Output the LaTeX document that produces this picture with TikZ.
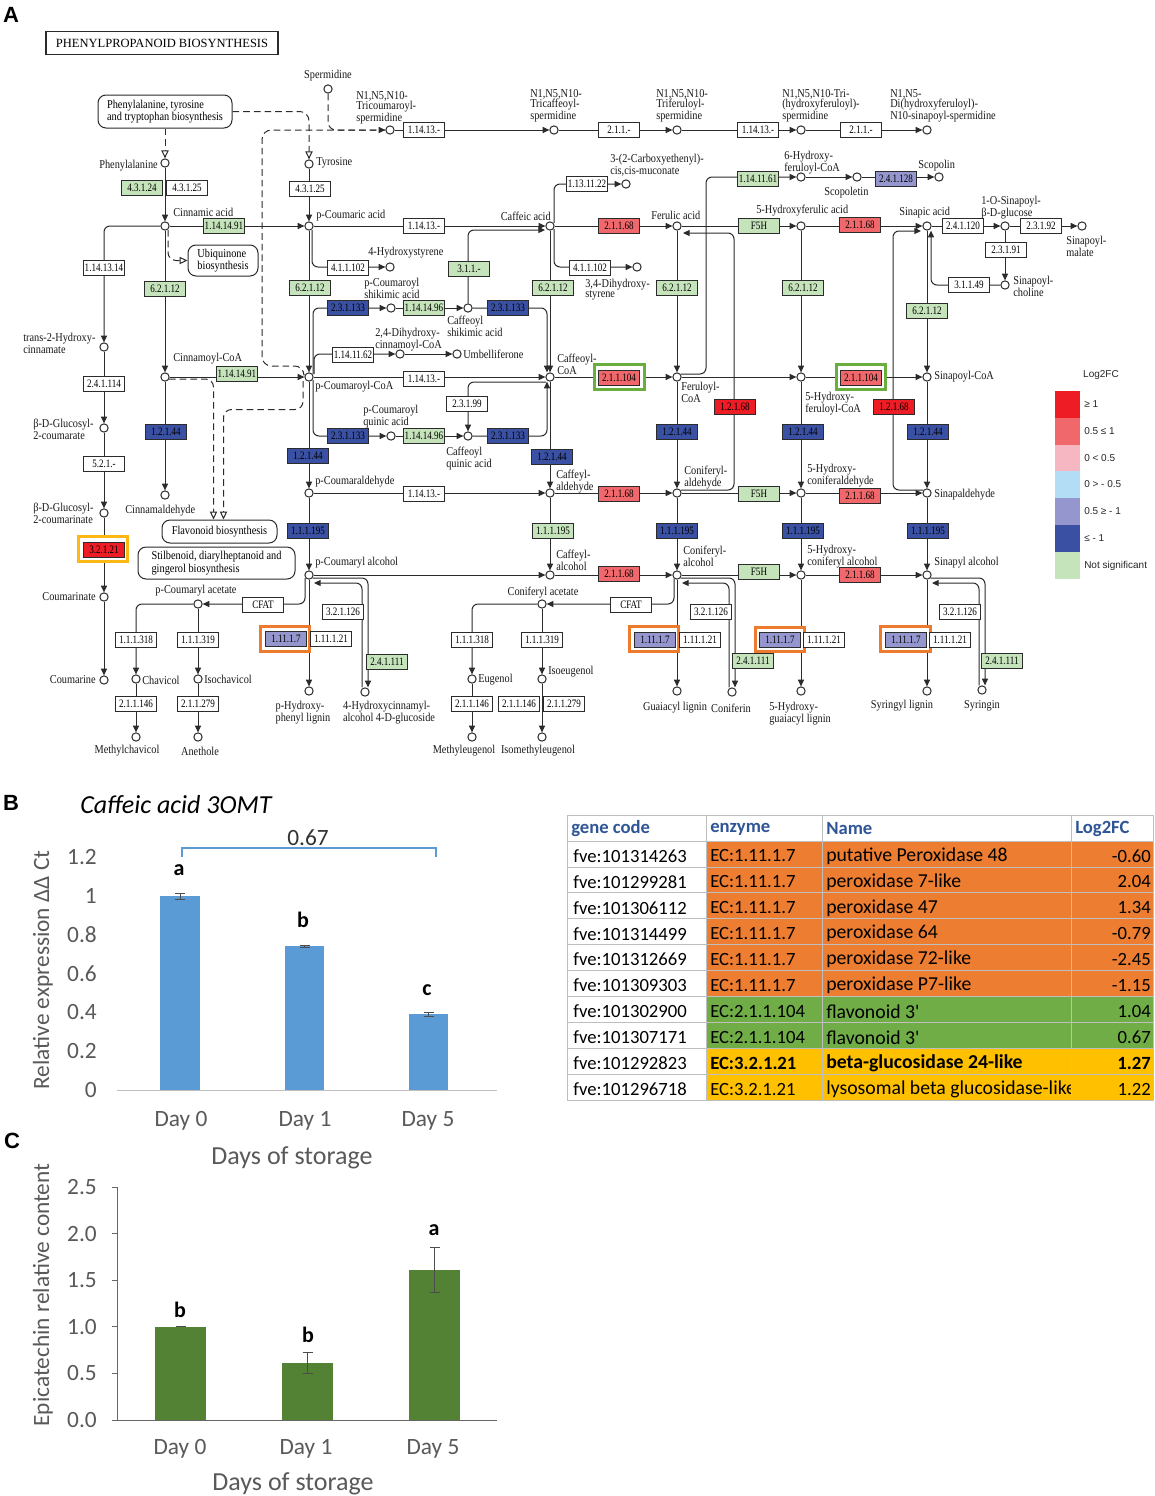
\documentclass[tikz,border=0pt]{standalone}
\usepackage{fontspec}
\setmainfont{Liberation Serif}
\newfontfamily\kserif{Liberation Serif}[FakeStretch=0.86]
\newfontfamily\kserifn{Liberation Serif}[FakeStretch=0.8]
\newfontfamily\calib{Carlito}
\newfontfamily\arialf{Liberation Sans}
\usetikzlibrary{arrows.meta,calc,backgrounds}
\definecolor{kline}{HTML}{2B2B2B}
\definecolor{kgreen}{HTML}{C6E4BC}
\definecolor{kred}{HTML}{EE1C25}
\definecolor{ksalmon}{HTML}{F0686B}
\definecolor{kpink}{HTML}{F6B7C3}
\definecolor{klblue}{HTML}{B3DDF5}
\definecolor{klav}{HTML}{9696CE}
\definecolor{kblue}{HTML}{3A50A2}
\definecolor{hlgreen}{HTML}{6AAE3E}
\definecolor{hlorange}{HTML}{EE7A2E}
\definecolor{hlyellow}{HTML}{FDB913}
\definecolor{barblue}{HTML}{5B9BD5}
\definecolor{bargreen}{HTML}{548235}
\definecolor{axgray}{HTML}{595959}
\definecolor{tblorange}{HTML}{ED7D31}
\definecolor{tblgreen}{HTML}{70AD47}
\definecolor{tblgold}{HTML}{FFC000}
\definecolor{tblhead}{HTML}{2F5597}
\definecolor{gridgray}{HTML}{BFBFBF}
\newcommand\klbl{\kserif\fontsize{9}{7.8}\selectfont}
\newcommand\kboxf{\kserifn\fontsize{8.5}{8.5}\selectfont}
\newcommand\cpdnode[3]{\node[cpd] (#1) at (#2,#3) {};}
\newcommand\ecnode[5]{\node[#2] (#1) at (#3,#4) {#5};}
\newcommand\hlnode[4]{\node[hlbox, draw=#2] (#1) at (#3,#4) {};}
\newcommand\trow[7]{%
 \fill[fill=#6] (706,{841+#1*25.9}) rectangle (1154,{841+(#1+1)*25.9});
 \node[tcell,anchor=west] (tg#1) at (573,{856+#1*25.9}) {#2};
 \node[tcell,anchor=west] (te#1) at (710,{856+#1*25.9}) {#7#3};
 \begin{scope}\clip (822,{841+#1*25.9}) rectangle (1071,{841+(#1+1)*25.9});
 \node[tcell,anchor=west,font=\calib\fontsize{14.8}{16}\selectfont] (tn#1) at (826,{856+#1*25.9}) {#7#4};\end{scope}
 \node[tcell,anchor=east] (tv#1) at (1151,{856+#1*25.9}) {#7#5};
}
\begin{document}
\begin{tikzpicture}[x=0.75pt,y=-0.75pt,
 cpd/.style={circle, draw=kline, line width=0.75pt, fill=white, minimum size=6.2pt, inner sep=0pt},
 ecbox/.style={draw=kline, line width=0.7pt, minimum width=30.5pt, minimum height=11pt, inner sep=0pt, font=\kboxf, text=black},
 ecw/.style={ecbox, fill=white},
 ecg/.style={ecbox, fill=kgreen},
 ecr/.style={ecbox, fill=kred},
 ecs/.style={ecbox, fill=ksalmon},
 ecl/.style={ecbox, fill=klav},
 ecb/.style={ecbox, fill=kblue},
 hlbox/.style={line width=2.4pt, fill=white, minimum width=37pt, minimum height=18.5pt, inner sep=0pt},
 lbl/.style={font=\klbl, inner sep=0pt, align=left, text=black!90},
 mapbox/.style={draw=kline, line width=0.75pt, rounded corners=6pt, fill=white, font=\klbl, align=left, inner sep=0pt},
 conn/.style={draw=kline, line width=0.75pt},
 arr/.style={conn, -{Triangle[length=5pt,width=4.5pt]}},
 dsh/.style={conn, dash pattern=on 5pt off 3pt},
 darr/.style={dsh, -{Triangle[length=5pt,width=4.5pt]}},
 oarr/.style={dsh, -{Triangle[open,length=6pt,width=5.5pt,fill=white]}},
 rc/.style={rounded corners=4.5pt},
 sw/.style={minimum width=18.75pt, minimum height=20.25pt, inner sep=0pt},
 leg/.style={font=\arialf\fontsize{7.5}{9}\selectfont, anchor=west, inner sep=0pt, text=black!85},
 ticklbl/.style={font=\calib\fontsize{17.5}{20}\selectfont, text=axgray, inner sep=0pt},
 axtitle/.style={font=\calib\fontsize{19.5}{22}\selectfont, text=axgray, inner sep=0pt},
 sig/.style={font=\calib\bfseries\fontsize{16.5}{18}\selectfont, inner sep=0pt},
 errb/.style={draw=black!70, line width=0.75pt},
 tcell/.style={font=\calib\fontsize{14}{16}\selectfont, inner sep=0pt},
 thead/.style={font=\calib\bfseries\fontsize{14}{16}\selectfont, inner sep=0pt, text=tblhead, anchor=west},
 panel/.style={font=\arialf\bfseries\fontsize{16.5}{18}\selectfont, inner sep=0pt}
]
\useasboundingbox (0,0) rectangle (1154,1496);

% ================= PANEL A =================
\node[panel] (pA) at (11,15) {A};
\node[draw=kline, line width=0.9pt, minimum width=174pt, minimum height=17pt, inner sep=0pt, font=\fontsize{9.4}{10}\selectfont] (title) at (162,43) {PHENYLPROPANOID BIOSYNTHESIS};

% map boxes
\node[mapbox, minimum width=100.5pt, minimum height=24.75pt] (ppt) at (165,111.5) {Phenylalanine, tyrosine\\and tryptophan biosynthesis};
\node[mapbox, minimum width=52.5pt, minimum height=23.25pt] (ubq) at (223,260.5) {Ubiquinone\\biosynthesis};
\node[mapbox, minimum width=86.25pt, minimum height=17.25pt] (flav) at (219.5,531.5) {Flavonoid biosynthesis};
\node[mapbox, minimum width=117.75pt, minimum height=24pt] (stil) at (216.5,563) {Stilbenoid, diarylheptanoid and\\gingerol biosynthesis};

% compounds
\cpdnode{phe}{165}{163}
\cpdnode{tyr}{309}{164}
\cpdnode{cin}{165}{226}
\cpdnode{pcou}{309}{226}
\cpdnode{caf}{550}{226}
\cpdnode{fer}{677}{226}
\cpdnode{ohfer}{801}{226}
\cpdnode{sin}{927}{226}
\cpdnode{sglc}{1005}{226}
\cpdnode{smal}{1082}{226}
\cpdnode{schol}{1005}{285}
\cpdnode{carb}{626}{184}
\cpdnode{hfsix}{801}{177}
\cpdnode{scpt}{857}{177}
\cpdnode{scpn}{939}{177}
\cpdnode{spd}{328}{89}
\cpdnode{sa}{390}{130}
\cpdnode{sb}{554}{130}
\cpdnode{sc}{677}{130}
\cpdnode{sd}{801}{130}
\cpdnode{se}{927}{130}
\cpdnode{hsty}{390}{267}
\cpdnode{dhsty}{637}{267}
\cpdnode{thc}{104}{347}
\cpdnode{gca}{104}{428}
\cpdnode{gcn}{104}{513}
\cpdnode{cmn}{104}{597}
\cpdnode{cme}{104}{680}
\cpdnode{cinCoA}{165}{377}
\cpdnode{pcouCoA}{309}{377}
\cpdnode{cafCoA}{550}{377}
\cpdnode{ferCoA}{677}{377}
\cpdnode{hffive}{801}{377}
\cpdnode{sinCoA}{927}{377}
\cpdnode{pcsh}{391}{308}
\cpdnode{cfsh}{468}{308}
\cpdnode{pcqu}{391}{436}
\cpdnode{cfqu}{468}{436}
\cpdnode{dhc}{400}{354}
\cpdnode{umb}{457}{354}
\cpdnode{cinald}{165}{495}
\cpdnode{pcald}{309}{493}
\cpdnode{cafald}{550}{493}
\cpdnode{conald}{677}{493}
\cpdnode{ohconald}{801}{493}
\cpdnode{sinald}{927}{493}
\cpdnode{pcalc}{309}{575}
\cpdnode{cafalc}{550}{575}
\cpdnode{conalc}{677}{575}
\cpdnode{ohconalc}{801}{575}
\cpdnode{sinalc}{927}{575}
\cpdnode{pcac}{198}{604}
\cpdnode{chav}{136}{679}
\cpdnode{ichav}{198}{679}
\cpdnode{mchav}{136}{737}
\cpdnode{aneth}{198}{737}
\cpdnode{conac}{542}{604}
\cpdnode{eug}{472}{679}
\cpdnode{ieug}{542}{679}
\cpdnode{meug}{472}{737}
\cpdnode{imeug}{542}{737}
\cpdnode{phl}{309}{691}
\cpdnode{hcg}{365}{692}
\cpdnode{gl}{677}{691}
\cpdnode{cnf}{732}{692}
\cpdnode{ogl}{801}{691}
\cpdnode{syl}{927}{691}
\cpdnode{syr}{982}{690}

% highlights
\hlnode{hA}{hlyellow}{103}{549}
\hlnode{hB}{hlgreen}{619.5}{377}
\hlnode{hC}{hlgreen}{861}{377}
\hlnode{hD}{hlorange}{285}{639}
\hlnode{hE}{hlorange}{654}{639}
\hlnode{hF}{hlorange}{780}{639.5}
\hlnode{hG}{hlorange}{905.5}{639}

% enzyme boxes
\ecnode{e1}{ecg}{142}{188}{4.3.1.24}
\ecnode{e2}{ecw}{187}{188}{4.3.1.25}
\ecnode{e3}{ecw}{310}{189}{4.3.1.25}
\ecnode{e4}{ecg}{224}{226}{1.14.14.91}
\ecnode{e5}{ecw}{104}{268}{1.14.13.14}
\ecnode{e6}{ecw}{104}{384}{2.4.1.114}
\ecnode{e7}{ecw}{104}{464}{5.2.1.-}
\ecnode{e8}{ecr}{104}{550}{3.2.1.21}
\ecnode{e9}{ecg}{165}{289}{6.2.1.12}
\ecnode{e10}{ecg}{237}{374}{1.14.14.91}
\ecnode{e11}{ecb}{166}{432}{1.2.1.44}
\ecnode{e12}{ecg}{310}{288}{6.2.1.12}
\ecnode{e13}{ecw}{348}{268}{4.1.1.102}
\ecnode{e14}{ecw}{424}{226}{1.14.13.-}
\ecnode{e15}{ecb}{308}{456}{1.2.1.44}
\ecnode{e16}{ecb}{308}{531}{1.1.1.195}
\ecnode{e17}{ecw}{424}{494}{1.14.13.-}
\ecnode{e18}{ecl}{286}{639}{1.11.1.7}
\ecnode{e19}{ecw}{331}{639}{1.11.1.21}
\ecnode{e20}{ecw}{263}{605}{CFAT}
\ecnode{e21}{ecw}{343}{612}{3.2.1.126}
\ecnode{e22}{ecg}{387}{662}{2.4.1.111}
\ecnode{e23}{ecw}{136}{640}{1.1.1.318}
\ecnode{e24}{ecw}{198}{640}{1.1.1.319}
\ecnode{e25}{ecw}{136}{704}{2.1.1.146}
\ecnode{e26}{ecw}{198}{704}{2.1.1.279}
\ecnode{e27}{ecw}{424}{130}{1.14.13.-}
\ecnode{e28}{ecw}{619}{130}{2.1.1.-}
\ecnode{e29}{ecw}{758}{130}{1.14.13.-}
\ecnode{e30}{ecw}{861}{130}{2.1.1.-}
\ecnode{e31}{ecb}{348}{308}{2.3.1.133}
\ecnode{e32}{ecg}{424}{308}{1.14.14.96}
\ecnode{e33}{ecb}{508}{308}{2.3.1.133}
\ecnode{e34}{ecg}{469}{269}{3.1.1.-}
\ecnode{e35}{ecw}{353}{355}{1.14.11.62}
\ecnode{e36}{ecw}{424}{379}{1.14.13.-}
\ecnode{e37}{ecb}{348}{436}{2.3.1.133}
\ecnode{e38}{ecg}{424}{436}{1.14.14.96}
\ecnode{e39}{ecb}{508}{436}{2.3.1.133}
\ecnode{e40}{ecw}{467}{404}{2.3.1.99}
\ecnode{e41}{ecw}{587}{184}{1.13.11.22}
\ecnode{e42}{ecw}{590}{268}{4.1.1.102}
\ecnode{e43}{ecg}{553}{288}{6.2.1.12}
\ecnode{e44}{ecb}{552}{457}{1.2.1.44}
\ecnode{e45}{ecg}{553}{531}{1.1.1.195}
\ecnode{e46}{ecs}{619}{226}{2.1.1.68}
\ecnode{e47}{ecs}{619}{378}{2.1.1.104}
\ecnode{e48}{ecs}{619}{494}{2.1.1.68}
\ecnode{e49}{ecs}{619}{574}{2.1.1.68}
\ecnode{e50}{ecg}{677}{288}{6.2.1.12}
\ecnode{e51}{ecb}{677}{432}{1.2.1.44}
\ecnode{e52}{ecb}{677}{531}{1.1.1.195}
\ecnode{e53}{ecr}{735}{407}{1.2.1.68}
\ecnode{e54}{ecl}{655}{640}{1.11.1.7}
\ecnode{e55}{ecw}{700}{640}{1.11.1.21}
\ecnode{e56}{ecw}{631}{605}{CFAT}
\ecnode{e57}{ecw}{711}{612}{3.2.1.126}
\ecnode{e58}{ecg}{753}{661}{2.4.1.111}
\ecnode{e59}{ecw}{472}{640}{1.1.1.318}
\ecnode{e60}{ecw}{542}{640}{1.1.1.319}
\ecnode{e61}{ecw}{472}{704}{2.1.1.146}
\ecnode{e62}{ecw}{519}{704}{2.1.1.146}
\ecnode{e63}{ecw}{564}{704}{2.1.1.279}
\ecnode{e64}{ecg}{758}{179}{1.14.11.61}
\ecnode{e65}{ecl}{896}{179}{2.4.1.128}
\ecnode{e66}{ecg}{759}{226}{F5H}
\ecnode{e67}{ecg}{759}{494}{F5H}
\ecnode{e68}{ecg}{759}{572}{F5H}
\ecnode{e69}{ecg}{803}{288}{6.2.1.12}
\ecnode{e70}{ecb}{803}{432}{1.2.1.44}
\ecnode{e71}{ecb}{803}{531}{1.1.1.195}
\ecnode{e72}{ecl}{780}{640}{1.11.1.7}
\ecnode{e73}{ecw}{824}{640}{1.11.1.21}
\ecnode{e74}{ecs}{860}{225}{2.1.1.68}
\ecnode{e75}{ecs}{861}{378}{2.1.1.104}
\ecnode{e76}{ecs}{860}{496}{2.1.1.68}
\ecnode{e77}{ecs}{860}{575}{2.1.1.68}
\ecnode{e78}{ecg}{927}{311}{6.2.1.12}
\ecnode{e79}{ecb}{928}{432}{1.2.1.44}
\ecnode{e80}{ecb}{928}{531}{1.1.1.195}
\ecnode{e81}{ecr}{894}{407}{1.2.1.68}
\ecnode{e82}{ecl}{906}{640}{1.11.1.7}
\ecnode{e83}{ecw}{950}{640}{1.11.1.21}
\ecnode{e84}{ecw}{960}{612}{3.2.1.126}
\ecnode{e85}{ecg}{1002}{661}{2.4.1.111}
\ecnode{e86}{ecw}{963}{226}{2.4.1.120}
\ecnode{e87}{ecw}{1041}{226}{2.3.1.92}
\ecnode{e88}{ecw}{1006}{250}{2.3.1.91}
\ecnode{e89}{ecw}{969}{285}{3.1.1.49}

% compound labels
\node[lbl, anchor=south] (Lspd) at (328,81) {Spermidine};
\node[lbl, anchor=north west] (Lsa) at (356,91) {N1,N5,N10-\\Tricoumaroyl-\\spermidine};
\node[lbl, anchor=north west] (Lsb) at (530,89) {N1,N5,N10-\\Tricaffeoyl-\\spermidine};
\node[lbl, anchor=north west] (Lsc) at (656,89) {N1,N5,N10-\\Triferuloyl-\\spermidine};
\node[lbl, anchor=north west] (Lsd) at (782,89) {N1,N5,N10-Tri-\\(hydroxyferuloyl)-\\spermidine};
\node[lbl, anchor=north west] (Lse) at (890,89) {N1,N5-\\Di(hydroxyferuloyl)-\\N10-sinapoyl-spermidine};
\node[lbl, anchor=east] (Lphe) at (158,166) {Phenylalanine};
\node[lbl, anchor=west] (Ltyr) at (316,163) {Tyrosine};
\node[lbl, anchor=west] (Lcin) at (173,212) {Cinnamic acid};
\node[lbl, anchor=west] (Lpcou) at (316,216) {p-Coumaric acid};
\node[lbl, anchor=east] (Lcaf) at (551,216) {Caffeic acid};
\node[lbl, anchor=west] (Lfer) at (651,215) {Ferulic acid};
\node[lbl, anchor=west] (Lohfer) at (756,211) {5-Hydroxyferulic acid};
\node[lbl, anchor=west] (Lsin) at (899,213) {Sinapic acid};
\node[lbl, anchor=north west] (Lsglc) at (981,196) {1-O-Sinapoyl-\\β-D-glucose};
\node[lbl, anchor=north west] (Lsmal) at (1066,236) {Sinapoyl-\\malate};
\node[lbl, anchor=north west] (Lschol) at (1013,276) {Sinapoyl-\\choline};
\node[lbl, anchor=north west] (Lcarb) at (610,154) {3-(2-Carboxyethenyl)-\\cis,cis-muconate};
\node[lbl, anchor=north west] (Lhfsix) at (784,151) {6-Hydroxy-\\feruloyl-CoA};
\node[lbl, anchor=west] (Lscpt) at (824,193) {Scopoletin};
\node[lbl, anchor=west] (Lscpn) at (918,166) {Scopolin};
\node[lbl, anchor=west] (Lhsty) at (368,253) {4-Hydroxystyrene};
\node[lbl, anchor=north west] (Ldhsty) at (585,279) {3,4-Dihydroxy-\\styrene};
\node[lbl, anchor=north west] (Lthc) at (23,333) {trans-2-Hydroxy-\\cinnamate};
\node[lbl, anchor=north west] (Lgca) at (33,419) {β-D-Glucosyl-\\2-coumarate};
\node[lbl, anchor=north west] (Lgcn) at (33,503) {β-D-Glucosyl-\\2-coumarinate};
\node[lbl, anchor=east] (Lcmn) at (96,597) {Coumarinate};
\node[lbl, anchor=east] (Lcme) at (96,680) {Coumarine};
\node[lbl, anchor=west] (LcinCoA) at (173,359) {Cinnamoyl-CoA};
\node[lbl, anchor=west] (LpcouCoA) at (315,387) {p-Coumaroyl-CoA};
\node[lbl, anchor=north west] (LcafCoA) at (557,354) {Caffeoyl-\\CoA};
\node[lbl, anchor=north west] (LferCoA) at (681,382) {Feruloyl-\\CoA};
\node[lbl, anchor=north west] (Lhffive) at (805,392) {5-Hydroxy-\\feruloyl-CoA};
\node[lbl, anchor=west] (LsinCoA) at (934,377) {Sinapoyl-CoA};
\node[lbl, anchor=north west] (Lpcsh) at (364,278) {p-Coumaroyl\\shikimic acid};
\node[lbl, anchor=north west] (Lcfsh) at (447,316) {Caffeoyl\\shikimic acid};
\node[lbl, anchor=north west] (Ldhc) at (375,328) {2,4-Dihydroxy-\\cinnamoyl-CoA};
\node[lbl, anchor=west] (Lumb) at (463,354) {Umbelliferone};
\node[lbl, anchor=north west] (Lpcqu) at (363,405) {p-Coumaroyl\\quinic acid};
\node[lbl, anchor=north west] (Lcfqu) at (446,447) {Caffeoyl\\quinic acid};
\node[lbl, anchor=west] (Lcinald) at (125,511) {Cinnamaldehyde};
\node[lbl, anchor=west] (Lpcald) at (315,482) {p-Coumaraldehyde};
\node[lbl, anchor=north west] (Lcafald) at (556,470) {Caffeyl-\\aldehyde};
\node[lbl, anchor=north west] (Lconald) at (684,466) {Coniferyl-\\aldehyde};
\node[lbl, anchor=north west] (Lohconald) at (807,464) {5-Hydroxy-\\coniferaldehyde};
\node[lbl, anchor=west] (Lsinald) at (934,495) {Sinapaldehyde};
\node[lbl, anchor=west] (Lpcalc) at (315,563) {p-Coumaryl alcohol};
\node[lbl, anchor=north west] (Lcafalc) at (556,550) {Caffeyl-\\alcohol};
\node[lbl, anchor=north west] (Lconalc) at (683,546) {Coniferyl-\\alcohol};
\node[lbl, anchor=north west] (Lohconalc) at (807,545) {5-Hydroxy-\\coniferyl alcohol};
\node[lbl, anchor=west] (Lsinalc) at (934,563) {Sinapyl alcohol};
\node[lbl] (Lpcac) at (196,591) {p-Coumaryl acetate};
\node[lbl] (Lconac) at (543,593) {Coniferyl acetate};
\node[lbl, anchor=west] (Lchav) at (142,680) {Chavicol};
\node[lbl, anchor=west] (Lichav) at (204,679) {Isochavicol};
\node[lbl, anchor=west] (Leug) at (478,680) {Eugenol};
\node[lbl, anchor=west] (Lieug) at (548,672) {Isoeugenol};
\node[lbl] (Lmchav) at (127,751) {Methylchavicol};
\node[lbl] (Laneth) at (200,751) {Anethole};
\node[lbl] (Lmeug) at (464,751) {Methyleugenol};
\node[lbl] (Limeug) at (538,751) {Isomethyleugenol};
\node[lbl, anchor=north] (Lphl) at (303,701) {p-Hydroxy-\\phenyl lignin};
\node[lbl, anchor=north] (Lhcg) at (389,701) {4-Hydroxycinnamyl-\\alcohol 4-D-glucoside};
\node[lbl] (Lgl) at (675,708) {Guaiacyl lignin};
\node[lbl] (Lcnf) at (731,708) {Coniferin};
\node[lbl, anchor=north west] (Logl) at (769,702) {5-Hydroxy-\\guaiacyl lignin};
\node[lbl] (Lsyl) at (902,706) {Syringyl lignin};
\node[lbl] (Lsyr) at (982,706) {Syringin};

% legend
\node[leg, anchor=center] (lgT) at (1101,375) {Log2FC};
\node[sw, fill=kred] (sw1) at (1067.5,404.5) {};
\node[sw, fill=ksalmon] (sw2) at (1067.5,431.5) {};
\node[sw, fill=kpink] (sw3) at (1067.5,458) {};
\node[sw, fill=klblue] (sw4) at (1067.5,484.5) {};
\node[sw, fill=klav] (sw5) at (1067.5,511.5) {};
\node[sw, fill=kblue] (sw6) at (1067.5,538.5) {};
\node[sw, fill=kgreen] (sw7) at (1067.5,565.5) {};
\node[leg] (lg1) at (1084,404.5) {≥ 1};
\node[leg] (lg2) at (1084,431.5) {0.5 ≤ 1};
\node[leg] (lg3) at (1084,458) {0 < 0.5};
\node[leg] (lg4) at (1084,484.5) {0 > - 0.5};
\node[leg] (lg5) at (1084,511.5) {0.5 ≥ - 1};
\node[leg] (lg6) at (1084,538.5) {≤ - 1};
\node[leg] (lg7) at (1084,565.5) {Not significant};

% connectors (background)
\begin{scope}[on background layer]
\fill[white] (0,0) rectangle (1154,1496);
% dashed
\draw[oarr] (ppt.south) -- (phe);
\draw[oarr, rounded corners=7pt] (ppt.east) -| (tyr);
\draw[dsh, rounded corners=6pt] (spd) |- (sa);
\draw[darr, rounded corners=7pt] ($(pcouCoA)+(-5,-3)$) |- (262,366) |- (sa);
\draw[oarr, rounded corners=6pt] ($(cin)+(3,4)$) |- (ubq.west);
\draw[oarr, rounded corners=6pt] ($(cinCoA)+(4,2)$) -| ($(flav.north)+(-6,0)$);
\draw[oarr, rounded corners=6pt] ($(pcouCoA)+(-6,4)$) |- ($(flav.north)+(4,-110)$) -- ($(flav.north)+(4,0)$);
% columns 1-2
\draw[arr] (phe) -- (cin);
\draw[arr] (tyr) -- (pcou);
\draw[arr] (cin) -- (pcou);
\draw[arr, rc] (cin) -| (thc);
\draw[arr] (thc) -- (gca);
\draw[arr] (gca) -- (gcn);
\draw[arr] (gcn) -- (cmn);
\draw[arr] (cmn) -- (cme);
\draw[arr] (cin) -- (cinCoA);
\draw[arr] (cinCoA) -- (cinald);
\draw[arr] (cinCoA) -- (pcouCoA);
% column 3
\draw[arr] (pcou) -- (pcouCoA);
\draw[arr, rc] ($(pcou)+(3,4)$) |- (hsty);
\draw[arr] (pcou) -- (caf);
\draw[arr] (pcouCoA) -- (pcald);
\draw[arr] (pcald) -- (pcalc);
\draw[arr] (pcald) -- (cafald);
\draw[arr] (pcalc) -- (cafalc);
\draw[arr, rc] ($(pcalc)+(3.5,3)$) -| ($(hcg.north)+(3,0)$);
\draw[arr, rc] ($(hcg.north)+(-3,0)$) |- ($(pcalc)+(5,8)$);
\draw[arr] (pcalc) -- (phl);
\draw[arr, rc] ($(pcalc)+(-4,3)$) |- (pcac);
\draw[arr, rc] (pcac) -| (chav);
\draw[arr] (pcac) -- (ichav);
\draw[arr] (chav) -- (mchav);
\draw[arr] (ichav) -- (aneth);
% spermidine row
\draw[arr] (sa) -- (sb);
\draw[arr] (sb) -- (sc);
\draw[arr] (sc) -- (sd);
\draw[arr] (sd) -- (se);
% shikimate / quinate
\draw[arr, rc] ($(pcouCoA)+(4,-3)$) |- (pcsh);
\draw[arr] (pcsh) -- (cfsh);
\draw[arr, rc] (cfsh) -| ($(cafCoA.north)+(-3,0)$);
\draw[arr, rc] (cfsh) |- ($(caf)+(-5,4)$);
\draw[arr, rc] ($(pcouCoA)+(5,-3)$) |- (dhc);
\draw[arr] (dhc) -- (umb);
\draw[arr] (pcouCoA) -- (cafCoA);
\draw[arr, rc] ($(pcouCoA)+(4,3)$) |- (pcqu);
\draw[arr] (pcqu) -- (cfqu);
\draw[arr, rc] (cfqu) -| ($(cafCoA.south)+(-3,0)$);
\draw[arr, rc] ($(cafCoA)+(-4,5)$) -| (cfqu);
% caffeic column
\draw[arr] (caf) -- (cafCoA);
\draw[arr, rc] ($(caf)+(4,-3)$) |- (carb);
\draw[arr, rc] ($(caf)+(4,3)$) |- (dhsty);
\draw[arr] (caf) -- (fer);
\draw[arr] (cafCoA) -- (cafald);
\draw[arr] (cafCoA) -- (ferCoA);
\draw[arr] (cafald) -- (cafalc);
\draw[arr] (cafald) -- (conald);
\draw[arr] (cafalc) -- (conalc);
% ferulic column
\draw[arr] (fer) -- (ferCoA);
\draw[arr] (fer) -- (ohfer);
\draw[arr, rc] ($(ferCoA)+(4,-3)$) -| ($(hfsix)+(-95,0)$) -- (hfsix);
\draw[arr] (hfsix) -- (scpt);
\draw[arr] (scpt) -- (scpn);
\draw[arr] (ferCoA) -- (conald);
\draw[arr] (ferCoA) -- (hffive);
\draw[arr, rc] ($(conald)+(4,-3)$) -| ($(fer)+(57,7)$) -- ($(fer)+(6,7)$);
\draw[arr] (conald) -- (conalc);
\draw[arr] (conald) -- (ohconald);
\draw[arr] (conalc) -- (ohconalc);
\draw[arr] (conalc) -- (gl);
\draw[arr, rc] ($(conalc)+(-3,3.5)$) |- (conac);
\draw[arr, rc] (conac) -| (eug);
\draw[arr] (conac) -- (ieug);
\draw[arr] (eug) -- (meug);
\draw[arr] (ieug) -- (imeug);
\draw[arr, rc] ($(conalc)+(3.5,3)$) -| ($(cnf.north)+(3,0)$);
\draw[arr, rc] ($(cnf.north)+(-3,0)$) |- ($(conalc)+(5,8)$);
% 5-hydroxy column
\draw[arr] (ohfer) -- (hffive);
\draw[arr] (ohfer) -- (sin);
\draw[arr] (hffive) -- (ohconald);
\draw[arr] (hffive) -- (sinCoA);
\draw[arr] (ohconald) -- (ohconalc);
\draw[arr] (ohconald) -- (sinald);
\draw[arr] (ohconalc) -- (sinalc);
\draw[arr] (ohconalc) -- (ogl);
% sinapyl column
\draw[arr] (sin) -- (sinCoA);
\draw[arr] (sin) -- (sglc);
\draw[arr] (sglc) -- (smal);
\draw[arr] (sglc) -- (schol);
\draw[arr, rc] (schol) -| ($(sin.south)+(4,0)$);
\draw[arr, rc] ($(sinald)+(-4,-3)$) -| ($(sin)+(-34,5)$) -- ($(sin)+(-6,5)$);
\draw[arr] (sinCoA) -- (sinald);
\draw[arr] (sinald) -- (sinalc);
\draw[arr] (sinalc) -- (syl);
\draw[arr, rc] ($(sinalc)+(3.5,3)$) -| ($(syr.north)+(3,0)$);
\draw[arr, rc] ($(syr.north)+(-3,0)$) |- ($(sinalc)+(5,8)$);
\end{scope}

% ================= PANEL B =================
\node[panel] (pB) at (11,803) {B};
\node[font=\calib\itshape\fontsize{19.5}{22}\selectfont, anchor=west, inner sep=0pt] (tB) at (80,805) {Caffeic acid 3OMT};
\foreach \v/\y [count=\k] in {1.2/857,1/896,0.8/934.5,0.6/973.5,0.4/1012,0.2/1051,0/1090}
  \node[ticklbl, anchor=east] (byt\k) at (97,\y) {\v};
\draw[draw=gridgray, line width=0.75pt] (117,1090) -- (497,1090);
\fill[barblue] (160,896) rectangle (200,1090);
\fill[barblue] (285,946.3) rectangle (324,1090);
\fill[barblue] (409,1014.3) rectangle (448,1090);
\draw[errb] (180,893) -- (180,899) (175,893) -- (185,893) (175,899) -- (185,899);
\draw[errb] (304.5,945) -- (304.5,947.5) (299.5,945) -- (309.5,945) (299.5,947.5) -- (309.5,947.5);
\draw[errb] (428.5,1012.5) -- (428.5,1016) (423.5,1012.5) -- (433.5,1012.5) (423.5,1016) -- (433.5,1016);
\node[sig] (sBa) at (179,870) {a};
\node[sig] (sBb) at (303,920) {b};
\node[sig] (sBc) at (427,990) {c};
\draw[draw=barblue, line width=0.9pt] (182,857) -- (182,848) -- (436,848) -- (436,857);
\node[font=\calib\fontsize{17.5}{20}\selectfont, text=black!80, inner sep=0pt] (pv) at (308,838) {0.67};
\node[ticklbl] (bx1) at (181,1121) {Day 0};
\node[ticklbl] (bx2) at (305,1121) {Day 1};
\node[ticklbl] (bx3) at (428,1121) {Day 5};
\node[axtitle] (bxt) at (292,1158) {Days of storage};
\node[font=\calib\fontsize{17.5}{20}\selectfont, text=axgray, inner sep=0pt, rotate=90] (byt) at (43,970) {Relative expression ΔΔ Ct};

% ================= TABLE =================
\trow{0}{fve:101314263}{EC:1.11.1.7}{putative Peroxidase 48}{-0.60}{tblorange}{}
\trow{1}{fve:101299281}{EC:1.11.1.7}{peroxidase 7-like}{2.04}{tblorange}{}
\trow{2}{fve:101306112}{EC:1.11.1.7}{peroxidase 47}{1.34}{tblorange}{}
\trow{3}{fve:101314499}{EC:1.11.1.7}{peroxidase 64}{-0.79}{tblorange}{}
\trow{4}{fve:101312669}{EC:1.11.1.7}{peroxidase 72-like}{-2.45}{tblorange}{}
\trow{5}{fve:101309303}{EC:1.11.1.7}{peroxidase P7-like}{-1.15}{tblorange}{}
\trow{6}{fve:101302900}{EC:2.1.1.104}{flavonoid 3'}{1.04}{tblgreen}{}
\trow{7}{fve:101307171}{EC:2.1.1.104}{flavonoid 3'}{0.67}{tblgreen}{}
\trow{8}{fve:101292823}{EC:3.2.1.21}{beta-glucosidase 24-like}{1.27}{tblgold}{\bfseries}
\trow{9}{fve:101296718}{EC:3.2.1.21}{lysosomal beta glucosidase-like}{1.22}{tblgold}{}
\foreach \r in {0,...,10} \draw[gridgray, line width=0.6pt] (567,{841+\r*25.9}) -- (1154,{841+\r*25.9});
\draw[gridgray, line width=0.6pt] (567,815) -- (1154,815);
\foreach \cx in {567,706,822,1071,1153.5} \draw[gridgray, line width=0.6pt] (\cx,815) -- (\cx,1100);
\node[thead] (th1) at (571,829) {gene code};
\node[thead] (th2) at (710,829) {enzyme};
\node[thead] (th3) at (826,829) {Name};
\node[thead] (th4) at (1075,829) {Log2FC};

% ================= PANEL C =================
\node[panel] (pC) at (12,1141) {C};
\foreach \v/\y [count=\k] in {2.5/1187,2.0/1233.6,1.5/1280.2,1.0/1326.8,0.5/1373.4,0.0/1420}
  \node[ticklbl, anchor=east] (cyt\k) at (97,\y) {\v};
\foreach \y in {1187,1233.6,1280.2,1326.8,1373.4,1420} \draw[draw=black!60, line width=0.75pt] (112,\y) -- (117,\y);
\draw[draw=black!60, line width=0.75pt] (117,1187) -- (117,1420) -- (497,1420);
\fill[bargreen] (155,1326.8) rectangle (206,1420);
\fill[bargreen] (282,1363.1) rectangle (333,1420);
\fill[bargreen] (409,1269.9) rectangle (460,1420);
\draw[errb] (175.5,1326.3) -- (185.5,1326.3);
\draw[errb] (307.5,1352.9) -- (307.5,1373.4) (302.5,1352.9) -- (312.5,1352.9) (302.5,1373.4) -- (312.5,1373.4);
\draw[errb] (434.5,1247.6) -- (434.5,1292.3) (429.5,1247.6) -- (439.5,1247.6) (429.5,1292.3) -- (439.5,1292.3);
\node[sig] (sCb1) at (180,1310) {b};
\node[sig] (sCb2) at (308,1335) {b};
\node[sig] (sCa) at (434,1230) {a};
\node[ticklbl] (cx1) at (180,1449) {Day 0};
\node[ticklbl] (cx2) at (306,1449) {Day 1};
\node[ticklbl] (cx3) at (433,1449) {Day 5};
\node[axtitle] (cxt) at (293,1484) {Days of storage};
\node[font=\calib\fontsize{17.5}{20}\selectfont, text=axgray, inner sep=0pt, rotate=90] (cyt) at (43,1295) {Epicatechin relative content};
\end{tikzpicture}
\end{document}
